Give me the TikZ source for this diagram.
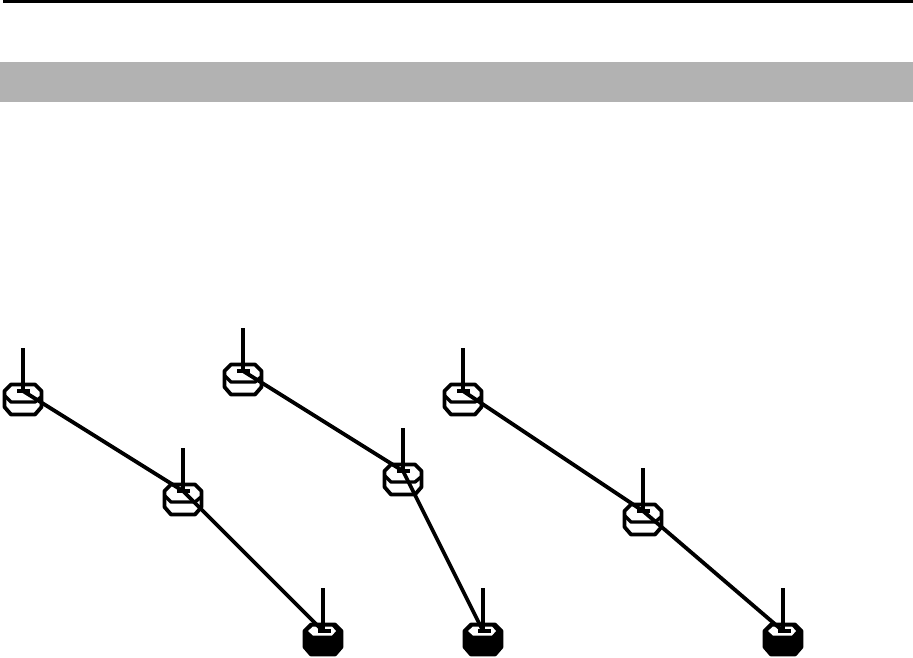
\documentclass[tikz,border=0pt]{standalone}
\tikzset{
  wire/.style={line width=3.8pt,line join=round,black},
  thin wire/.style={line width=3.4pt,line join=round,black},
  band/.style={fill=black!30,draw=none}
}
\newcommand{\bodyoutline}{(-12,-6.5) -- (12,-6.5) -- (18.5,0) -- (18.5,16) -- (12,23.5) -- (-12,23.5) -- (-18.5,16) -- (-18.5,0) -- cycle}
\newcommand{\whitepost}[3]{%
  \coordinate (#1) at (#2,#3);
  \begin{scope}[shift={(#1)}]
    \draw[wire,fill=white] \bodyoutline;
    \draw[thin wire] (-18,5) -- (-12,11) -- (12,11) -- (18,6);
    \draw[thin wire] (-6,0) -- (7,0);
    \draw[wire] (0,-43) -- (0,0);
  \end{scope}}
\newcommand{\blackpost}[3]{%
  \coordinate (#1) at (#2,#3);
  \begin{scope}[shift={(#1)}]
    \draw[wire,fill=black] \bodyoutline;
    \fill[white] (-15,0) -- (-10,-4.5) -- (9,-4.5) -- (13,0) -- (9,4.5) -- (-10,4.5) -- cycle;
    \draw[thin wire] (-5,0) -- (8,0);
    \draw[wire] (0,-43) -- (0,0);
  \end{scope}}
\begin{document}
\begin{tikzpicture}[x=1pt,y=-1pt]
\useasboundingbox (0,0) rectangle (913,657);
\fill[black] (3,0) rectangle (913,3);
\fill[band] (0,62) rectangle (913,102);
\whitepost{a1}{23}{391}
\whitepost{a2}{183}{491}
\blackpost{a3}{323}{631}
\whitepost{b1}{243}{371}
\whitepost{b2}{403}{471}
\blackpost{b3}{483}{631}
\whitepost{c1}{463}{391}
\whitepost{c2}{643}{511}
\blackpost{c3}{783}{631}
\draw[wire] (a1) -- (a2) -- (a3);
\draw[wire] (b1) -- (b2) -- (b3);
\draw[wire] (c1) -- (c2) -- (c3);
\end{tikzpicture}
\end{document}
